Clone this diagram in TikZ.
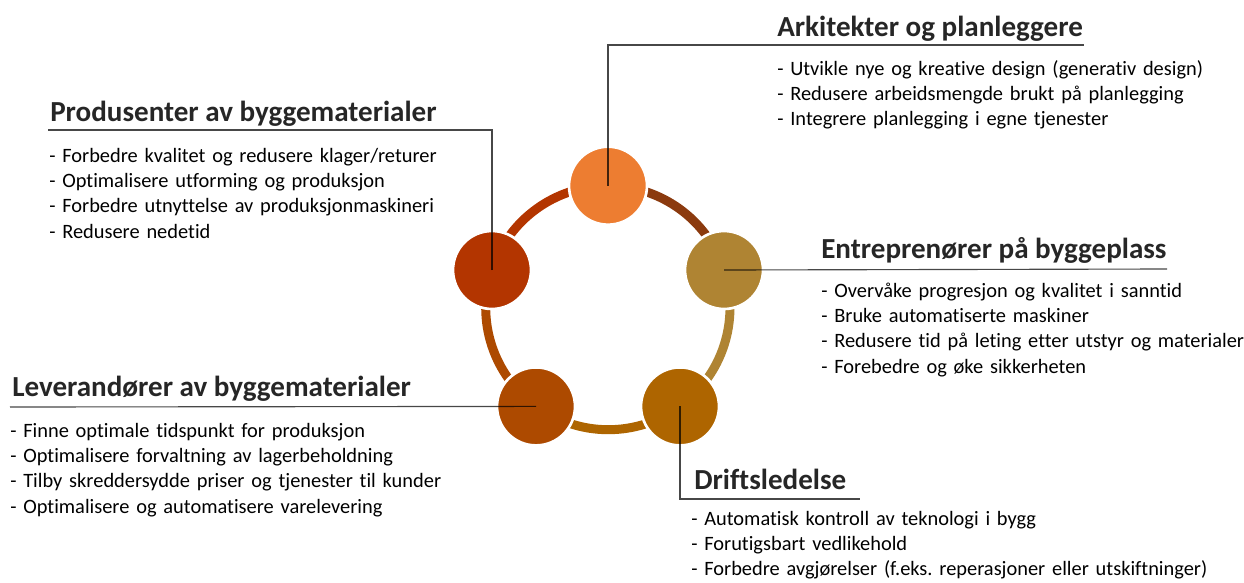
\documentclass[tikz,border=0pt]{standalone}
\usepackage{fontspec}
\setmainfont{Carlito}[Ligatures=CommonOff]
\usetikzlibrary{backgrounds}

\definecolor{archcol}{HTML}{ED7D31}
\definecolor{prodcol}{HTML}{B33500}
\definecolor{entrcol}{HTML}{AF8433}
\definecolor{driftcol}{HTML}{AE6500}
\definecolor{levcol}{HTML}{AD4A00}
\definecolor{linkcol}{HTML}{8B3A0E}

\begin{document}
\frenchspacing
\begin{tikzpicture}[x=0.75pt, y=-0.75pt,
        stake/.style={circle, draw=white, line width=2pt, minimum size=58.5pt, inner sep=0pt},
        ring/.style={line width=6.75pt},
        leader/.style={draw=black, draw opacity=0.72, line width=0.85pt},
        heading/.style={anchor=base west, inner sep=0pt, text=black!85, font=\fontsize{21.8}{25}\selectfont\bfseries},
        points/.style={anchor=base west, inner sep=0pt, text width=470pt, align=left, font=\fontsize{15.3}{19}\selectfont}]

        \useasboundingbox (0,0) rectangle (1244,582);

        % the five circles of the ring
        \node[stake, fill=archcol] (arch) at (608,185.7) {};
        \node[stake, fill=prodcol] (prod) at (492,270) {};
        \node[stake, fill=entrcol] (entr) at (724,270) {};
        \node[stake, fill=driftcol] (drift) at (680,406.4) {};
        \node[stake, fill=levcol] (lev) at (536,406.4) {};

        % ring pieces between the circles
        \begin{scope}[on background layer]
        \draw[ring, prodcol] (prod.center) arc[start angle=198, end angle=270, radius=122];
        \draw[ring, linkcol] (arch.center) arc[start angle=270, end angle=342, radius=122];
        \draw[ring, entrcol] (entr.center) arc[start angle=-18, end angle=54, radius=122];
        \draw[ring, driftcol] (drift.center) arc[start angle=54, end angle=126, radius=122];
        \draw[ring, levcol] (lev.center) arc[start angle=126, end angle=198, radius=122];
        \end{scope}

        % leader lines
        \coordinate (archend) at (1084,45);
        \coordinate (prodend) at (48,130);
        \coordinate (entrend) at (1167,269);
        \coordinate (levend) at (10,407);
        \coordinate (driftend) at (860,499);

        \draw[leader] (arch.center) |- (archend);
        \draw[leader] (prod.center) |- (prodend);
        \draw[leader] (entr.center) -- (entrend);
        \draw[leader] (lev.center) -- (levend);
        \draw[leader] (drift.center) |- (driftend);

        % headings
        \node[heading] (archtitle) at (777,36) {Arkitekter og planleggere};
        \node[heading] (prodtitle) at (50,121) {Produsenter av byggematerialer};
        \node[heading] (entrtitle) at (821,258) {Entreprenører på byggeplass};
        \node[heading] (levtitle) at (12,396) {Leverandører av byggematerialer};
        \node[heading] (drifttitle) at (694,489) {Driftsledelse};

        % bullet points
        \node[points] (archlist) at (777,75) {- Utvikle nye og kreative design (generativ design)\\
            - Redusere arbeidsmengde brukt på planlegging\\
            - Integrere planlegging i egne tjenester};
        \node[points] (prodlist) at (49,162) {- Forbedre kvalitet og redusere klager/returer\\
            - Optimalisere utforming og produksjon\\
            - Forbedre utnyttelse av produksjonmaskineri\\
            - Redusere nedetid};
        \node[points] (entrlist) at (821,297) {- Overvåke progresjon og kvalitet i sanntid\\
            - Bruke automatiserte maskiner\\
            - Redusere tid på leting etter utstyr og materialer\\
            - Forebedre og øke sikkerheten};
        \node[points] (levlist) at (10,437) {- Finne optimale tidspunkt for produksjon\\
            - Optimalisere forvaltning av lagerbeholdning\\
            - Tilby skreddersydde priser og tjenester til kunder\\
            - Optimalisere og automatisere varelevering};
        \node[points] (driftlist) at (691,525) {- Automatisk kontroll av teknologi i bygg\\
            - Forutigsbart vedlikehold\\
            - Forbedre avgjørelser (f.eks. reperasjoner eller utskiftninger)};
    \end{tikzpicture}
\end{document}
